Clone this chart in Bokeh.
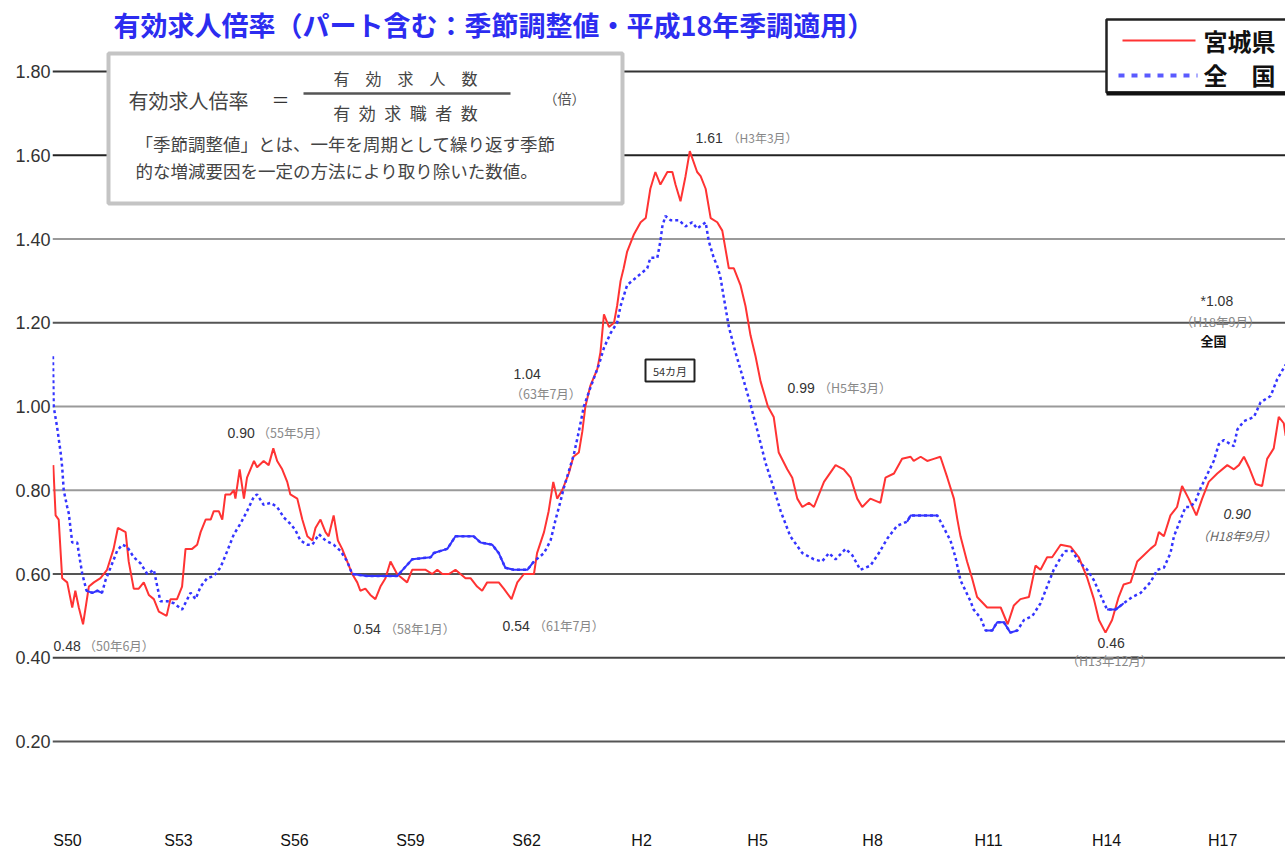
from bokeh.plotting import figure
from bokeh.models import Range1d, FixedTicker, Span, PrintfTickFormatter
from bokeh.core.properties import value
from bokeh.embed import file_html
from bokeh.resources import INLINE

# ---------------- data ----------------
# 宮城県 (Miyagi) – decimal year / ratio
red_t = [1974.71, 1974.77, 1974.85, 1974.94, 1975.07, 1975.20, 1975.28, 1975.37, 1975.48, 1975.63,
         1975.76, 1975.93, 1976.10, 1976.27, 1976.38, 1976.58, 1976.66, 1976.79, 1976.92, 1977.05,
         1977.18, 1977.31, 1977.44, 1977.64, 1977.74, 1977.91, 1978.04, 1978.13, 1978.30, 1978.43,
         1978.52, 1978.65, 1978.78, 1978.86, 1978.99, 1979.08, 1979.16, 1979.29, 1979.38, 1979.42,
         1979.53, 1979.64, 1979.72, 1979.90, 1979.98, 1980.15, 1980.28, 1980.40, 1980.50, 1980.63,
         1980.76, 1980.84, 1981.02, 1981.15, 1981.28, 1981.41, 1981.49, 1981.62, 1981.75, 1981.83,
         1981.96, 1982.07, 1982.18, 1982.31, 1982.44, 1982.57, 1982.65, 1982.78, 1982.91, 1983.04,
         1983.17, 1983.30, 1983.43, 1983.60, 1983.73, 1983.86, 1983.99, 1984.16, 1984.34, 1984.51,
         1984.64, 1984.77, 1984.94, 1985.11, 1985.24, 1985.37, 1985.50, 1985.67, 1985.80, 1985.93,
         1986.10, 1986.23, 1986.36, 1986.56, 1986.71, 1986.88, 1987.14, 1987.22, 1987.40, 1987.52,
         1987.64, 1987.74, 1987.87, 1988.04, 1988.16, 1988.30, 1988.39, 1988.47, 1988.60, 1988.78,
         1988.86, 1988.95, 1989.08, 1989.21, 1989.29, 1989.38, 1989.46, 1989.55, 1989.72, 1989.90,
         1990.03, 1990.15, 1990.28, 1990.41, 1990.59, 1990.72, 1990.80, 1990.93, 1991.06, 1991.17,
         1991.36, 1991.45, 1991.58, 1991.71, 1991.88, 1992.01, 1992.18, 1992.31, 1992.48, 1992.61,
         1992.74, 1992.87, 1993.00, 1993.19, 1993.34, 1993.47, 1993.69, 1993.82, 1993.95, 1994.08,
         1994.25, 1994.38, 1994.64, 1994.94, 1995.15, 1995.33, 1995.50, 1995.63, 1995.84, 1996.10,
         1996.23, 1996.45, 1996.66, 1996.88, 1996.96, 1997.14, 1997.31, 1997.48, 1997.65, 1997.83,
         1998.00, 1998.09, 1998.17, 1998.34, 1998.47, 1998.60, 1998.86, 1999.21, 1999.39, 1999.55,
         1999.72, 1999.94, 2000.11, 2000.24, 2000.41, 2000.54, 2000.76, 2001.02, 2001.23, 2001.45,
         2001.62, 2001.75, 2001.92, 2002.09, 2002.26, 2002.39, 2002.57, 2002.74, 2002.91, 2003.08,
         2003.21, 2003.30, 2003.43, 2003.60, 2003.77, 2003.90, 2004.07, 2004.27, 2004.42, 2004.59,
         2004.81, 2005.07, 2005.24, 2005.37, 2005.50, 2005.63, 2005.80, 2005.97, 2006.10, 2006.27,
         2006.40, 2006.53, 2006.58]
red_v = [0.86, 0.74, 0.73, 0.59, 0.58, 0.52, 0.56, 0.52, 0.48, 0.57,
         0.58, 0.59, 0.61, 0.66, 0.71, 0.70, 0.63, 0.565, 0.565, 0.58,
         0.55, 0.54, 0.51, 0.50, 0.54, 0.54, 0.57, 0.66, 0.66, 0.67,
         0.70, 0.73, 0.73, 0.75, 0.75, 0.73, 0.79, 0.79, 0.80, 0.78,
         0.85, 0.78, 0.83, 0.87, 0.855, 0.87, 0.86, 0.90, 0.87, 0.85,
         0.82, 0.79, 0.78, 0.73, 0.69, 0.68, 0.71, 0.73, 0.70, 0.69,
         0.74, 0.68, 0.66, 0.63, 0.60, 0.58, 0.56, 0.565, 0.55, 0.54,
         0.57, 0.59, 0.63, 0.60, 0.59, 0.58, 0.61, 0.61, 0.61, 0.60,
         0.61, 0.60, 0.60, 0.61, 0.60, 0.59, 0.59, 0.57, 0.56, 0.58,
         0.58, 0.58, 0.565, 0.54, 0.58, 0.60, 0.60, 0.65, 0.70, 0.75,
         0.82, 0.78, 0.80, 0.84, 0.88, 0.89, 0.94, 1.00, 1.05, 1.09,
         1.13, 1.22, 1.19, 1.20, 1.24, 1.30, 1.33, 1.37, 1.41, 1.44,
         1.45, 1.52, 1.56, 1.53, 1.56, 1.56, 1.53, 1.49, 1.55, 1.61,
         1.56, 1.55, 1.52, 1.45, 1.44, 1.42, 1.33, 1.33, 1.29, 1.24,
         1.17, 1.12, 1.06, 1.00, 0.975, 0.89, 0.85, 0.83, 0.78, 0.76,
         0.77, 0.76, 0.82, 0.86, 0.85, 0.83, 0.78, 0.76, 0.78, 0.77,
         0.83, 0.84, 0.875, 0.88, 0.87, 0.88, 0.87, 0.875, 0.88, 0.83,
         0.78, 0.73, 0.69, 0.63, 0.59, 0.545, 0.52, 0.52, 0.48, 0.525,
         0.54, 0.545, 0.62, 0.61, 0.64, 0.64, 0.67, 0.665, 0.64, 0.59,
         0.54, 0.49, 0.46, 0.49, 0.545, 0.575, 0.58, 0.63, 0.645, 0.66,
         0.67, 0.70, 0.69, 0.74, 0.76, 0.81, 0.78, 0.74, 0.78, 0.82,
         0.84, 0.86, 0.85, 0.86, 0.88, 0.855, 0.815, 0.81, 0.875, 0.90,
         0.975, 0.96, 0.93]

# 全国 (national)
blue_t = [1974.70, 1974.72, 1974.81, 1974.90, 1974.94, 1974.98, 1975.07, 1975.11, 1975.20, 1975.33,
          1975.37, 1975.46, 1975.57, 1975.72, 1975.85, 1975.97, 1976.06, 1976.19, 1976.36, 1976.49,
          1976.62, 1976.79, 1976.97, 1977.14, 1977.31, 1977.40, 1977.48, 1977.66, 1977.83, 1978.04,
          1978.26, 1978.39, 1978.52, 1978.69, 1978.86, 1979.03, 1979.21, 1979.38, 1979.55, 1979.72,
          1979.90, 1979.98, 1980.15, 1980.33, 1980.50, 1980.67, 1980.84, 1980.97, 1981.10, 1981.28,
          1981.41, 1981.58, 1981.75, 1981.96, 1982.14, 1982.31, 1982.44, 1982.83, 1983.26, 1983.60,
          1983.99, 1984.47, 1984.55, 1984.90, 1985.11, 1985.58, 1985.76, 1986.06, 1986.23, 1986.40,
          1986.62, 1986.97, 1987.14, 1987.40, 1987.57, 1987.70, 1987.83, 1987.91, 1988.04, 1988.17,
          1988.30, 1988.43, 1988.60, 1988.82, 1988.95, 1989.12, 1989.29, 1989.38, 1989.55, 1989.81,
          1990.07, 1990.15, 1990.33, 1990.41, 1990.46, 1990.54, 1990.67, 1990.89, 1991.06, 1991.23,
          1991.36, 1991.58, 1991.66, 1991.79, 1991.88, 1991.96, 1992.05, 1992.18, 1992.35, 1992.57,
          1992.74, 1992.91, 1993.13, 1993.34, 1993.52, 1993.77, 1994.08, 1994.38, 1994.59, 1994.77,
          1994.94, 1995.20, 1995.37, 1995.58, 1995.84, 1996.06, 1996.28, 1996.53, 1996.79, 1996.88,
          1997.57, 1997.74, 1997.91, 1998.04, 1998.17, 1998.43, 1998.51, 1998.69, 1998.82, 1998.99,
          1999.12, 1999.29, 1999.46, 1999.64, 1999.81, 2000.03, 2000.24, 2000.41, 2000.58, 2000.80,
          2000.89, 2001.06, 2001.23, 2001.45, 2001.62, 2001.79, 2001.96, 2002.18, 2002.39, 2002.61,
          2002.83, 2003.08, 2003.26, 2003.43, 2003.60, 2003.69, 2003.86, 2003.99, 2004.12, 2004.25,
          2004.38, 2004.51, 2004.72, 2004.85, 2004.98, 2005.24, 2005.33, 2005.50, 2005.76, 2005.93,
          2006.19, 2006.36, 2006.58]
blue_v = [1.12, 1.00, 0.95, 0.89, 0.855, 0.80, 0.76, 0.745, 0.675, 0.675,
          0.65, 0.60, 0.56, 0.555, 0.56, 0.555, 0.585, 0.615, 0.655, 0.67,
          0.665, 0.64, 0.625, 0.60, 0.61, 0.57, 0.535, 0.535, 0.53, 0.515,
          0.555, 0.54, 0.57, 0.59, 0.595, 0.615, 0.655, 0.695, 0.72, 0.75,
          0.785, 0.79, 0.765, 0.77, 0.76, 0.735, 0.72, 0.705, 0.68, 0.67,
          0.67, 0.695, 0.68, 0.67, 0.655, 0.63, 0.60, 0.595, 0.595, 0.595,
          0.635, 0.64, 0.65, 0.66, 0.69, 0.69, 0.675, 0.67, 0.65, 0.615,
          0.61, 0.61, 0.63, 0.65, 0.68, 0.73, 0.775, 0.805, 0.845, 0.885,
          0.94, 1.00, 1.045, 1.10, 1.14, 1.175, 1.20, 1.24, 1.29, 1.31,
          1.33, 1.355, 1.355, 1.395, 1.43, 1.455, 1.445, 1.445, 1.43, 1.44,
          1.425, 1.44, 1.395, 1.355, 1.335, 1.31, 1.26, 1.19, 1.13, 1.06,
          1.005, 0.945, 0.865, 0.805, 0.75, 0.69, 0.65, 0.635, 0.63, 0.65,
          0.635, 0.66, 0.645, 0.61, 0.62, 0.65, 0.685, 0.715, 0.725, 0.74,
          0.74, 0.71, 0.68, 0.64, 0.585, 0.535, 0.515, 0.495, 0.465, 0.465,
          0.485, 0.485, 0.46, 0.465, 0.49, 0.50, 0.53, 0.57, 0.61, 0.645,
          0.655, 0.655, 0.63, 0.61, 0.585, 0.55, 0.515, 0.515, 0.53, 0.545,
          0.555, 0.58, 0.61, 0.615, 0.65, 0.69, 0.73, 0.76, 0.76, 0.775,
          0.805, 0.83, 0.87, 0.91, 0.92, 0.905, 0.945, 0.965, 0.975, 1.01,
          1.025, 1.065, 1.10]

x_tick_years = [1975, 1978, 1981, 1984, 1987, 1990, 1993, 1996, 1999, 2002, 2005]
x_tick_labels = ["S50", "S53", "S56", "S59", "S62", "H2", "H5", "H8", "H11", "H14", "H17"]
y_ticks = [0.2, 0.4, 0.6, 0.8, 1.0, 1.2, 1.4, 1.6, 1.8]

# stretches where the national line is drawn solid in the original
blue_solid_spans = [(1975.55, 1976.0), (1982.44, 1987.14), (1996.79, 1997.57),
                    (1998.82, 1999.64), (2001.96, 2002.39)]

# ---------------- layout helpers (reference pixel -> data space) ----------------
X0, XS = 64.0, 38.67
def px(x):
    return 1975 + (x - X0) / XS

def py(y):
    return 1.8 - (y - 71) / 418.75

JP = "Noto Sans CJK JP"
LAT = "Liberation Sans"

p = figure(width=1285, height=849, output_backend="svg", toolbar_location=None,
           x_range=Range1d(px(52), px(1285)), y_range=Range1d(py(849), py(0)),
           x_axis_location=None, min_border_left=52, min_border_right=0,
           min_border_top=0, min_border_bottom=0)
p.outline_line_color = None
p.grid.visible = False
p.background_fill_color = "white"

ax = p.yaxis[0]
ax.ticker = FixedTicker(ticks=y_ticks)
ax.formatter = PrintfTickFormatter(format="%.2f")
ax.axis_line_color = None
ax.major_tick_line_color = None
ax.minor_tick_line_color = None
ax.major_tick_out = 0
ax.major_tick_in = 0
ax.major_label_standoff = 2
ax.major_label_text_font = LAT
ax.major_label_text_font_size = "18px"
ax.major_label_text_color = "#333333"

grid_colors = ["#555555", "#444444", "#555555", "#9a9a9a", "#9a9a9a", "#555555", "#9a9a9a", "#222222", "#333333"]
for v, c in zip(y_ticks, grid_colors):
    p.add_layout(Span(location=v, dimension="width", line_color=c, line_width=2, level="underlay"))

# series
p.line(red_t, red_v, line_color="#ff3333", line_width=2)
p.line(blue_t, blue_v, line_color="#3434ff", line_width=2.5, line_dash="3 3")
sx, sy = [], []
for a, b in blue_solid_spans:
    idx = [i for i, t in enumerate(blue_t) if a <= t <= b]
    sx.append([blue_t[i] for i in idx])
    sy.append([blue_v[i] for i in idx])
p.multi_line(sx, sy, line_color="#3434ff", line_width=2)


def txt(x, y, s, size, color, font=JP, align="left", style="normal", baseline="middle"):
    p.text(x=[px(x)], y=[py(y)], text=[s], text_font=value(font), text_font_size=f"{size}px",
           text_color=color, text_align=align, text_baseline=baseline, text_font_style=style)

# x tick labels
x_label_offsets = [3, -2, -2, -2, -2, -3, -3, -4, -4, -2, -2]
p.text(x=x_tick_years, y=[py(840)] * len(x_tick_years), text=x_tick_labels, text_font=value(LAT),
       text_font_size="16px", text_color="#111111", text_align="center", text_baseline="middle",
       x_offset=x_label_offsets)

# title
txt(113, 24, "有効求人倍率（パート含む：季節調整値・平成18年季調適用）", 27, "#2c2cf0", style="bold")

# info box
p.quad(left=px(108), right=px(622), bottom=py(203), top=py(53), fill_color="white",
       line_color="#c4c4c4", line_width=4)
txt(128, 100, "有効求人倍率", 20, "#444444")
txt(280, 98, "＝", 18, "#333333", align="center")
txt(405, 77, "有　効　求　人　数", 16, "#444444", align="center")
p.segment(x0=px(303), y0=py(93), x1=px(510), y1=py(93), line_color="#555555", line_width=2.5)
txt(405, 112, "有\u2002効\u2002求\u2002職\u2002者\u2002数", 17, "#444444", align="center")
txt(564, 97, "（倍）", 14, "#555555", align="center")
txt(135, 143, "「季節調整値」とは、一年を周期として繰り返す季節", 17.5, "#444444")
txt(135, 170, "的な増減要因を一定の方法により取り除いた数値。", 17.5, "#444444")

# legend
p.quad(left=px(1106), right=px(1300), bottom=py(92), top=py(19), fill_color="white",
       line_color="#222222", line_width=2.5)
p.segment(x0=px(1106), y0=py(93), x1=px(1300), y1=py(93), line_color="#111111", line_width=4)
p.segment(x0=px(1122), y0=py(40), x1=px(1195), y1=py(40), line_color="#ff3333", line_width=2)
p.segment(x0=px(1118), y0=py(75), x1=px(1197), y1=py(75), line_color="#5a5aff", line_width=4,
          line_dash="6 7")
txt(1203, 40, "宮城県", 24, "#111111", style="bold")
txt(1203, 74, "全　国", 24, "#111111", style="bold")

# annotations
NUM = "#333333"
PAR = "#888888"
txt(695, 137, "1.61", 14, NUM, font=LAT)
txt(727, 137, "（H3年3月）", 12, PAR)
txt(227, 432, "0.90", 14, NUM, font=LAT)
txt(257, 432, "（55年5月）", 12.5, PAR)
txt(53, 645, "0.48", 14, NUM, font=LAT)
txt(83, 645, "（50年6月）", 12.5, PAR)
txt(353, 628, "0.54", 14, NUM, font=LAT)
txt(384, 628, "（58年1月）", 12.5, PAR)
txt(502, 625, "0.54", 14, NUM, font=LAT)
txt(533, 625, "（61年7月）", 12.5, PAR)
txt(513, 373, "1.04", 14, NUM, font=LAT)
txt(510, 393, "（63年7月）", 12.5, PAR)
txt(787, 387, "0.99", 14, NUM, font=LAT)
txt(818, 387, "（H5年3月）", 12.5, PAR)
txt(1200, 300, "*1.08", 14, NUM, font=LAT)
txt(1180, 321, "（H18年9月）", 12.5, PAR)
txt(1200, 340, "全国", 13, "#111111", style="bold")
txt(1223, 513, "0.90", 14, NUM, font=LAT, style="italic")
txt(1196, 535, "（H18年9月）", 12.5, "#666666", style="italic")
txt(1097, 642, "0.46", 14, NUM, font=LAT)
txt(1066, 660, "（H13年12月）", 12.5, PAR)

# 54カ月 box
p.quad(left=px(645), right=px(694), bottom=py(381), top=py(359), fill_color="white",
       line_color="#222222", line_width=2)
txt(669.5, 370, "54カ月", 11, "#333333", align="center")

open("out.html", "w", encoding="utf-8").write(file_html(p, INLINE))
